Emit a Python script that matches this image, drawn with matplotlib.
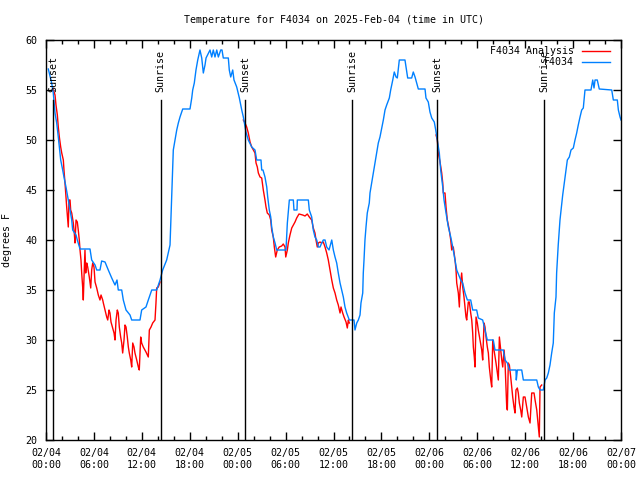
import matplotlib
matplotlib.use("Agg")
import matplotlib.pyplot as plt
import numpy as np

# hours since 2025-02-04 00:00 UTC
obs_hours = [0.29,0.71,0.91,1.13,1.34,1.54,1.84,2.09,2.25,2.50,2.79,3.01,3.22,3.34,3.76,3.92,4.26,5.51,5.72,6.14,6.35,6.76,6.97,7.39,7.80,8.23,8.64,8.89,9.05,9.48,9.68,10.02,10.52,10.73,11.77,11.98,12.52,12.81,13.24,13.86,14.28,14.61,15.11,15.53,
             15.94,16.15,16.37,16.57,16.78,17.12,18.03,18.25,18.37,18.57,18.78,19.00,19.28,19.50,19.70,19.91,20.04,20.54,20.75,20.95,21.16,21.38,21.58,21.88,22.04,22.20,22.83,22.95,23.13,23.38,23.54,23.88,24.21,24.51,24.71,25.04,25.33,25.76,26.17,26.38,26.92,27.01,27.17,27.42,27.64,27.76,27.96,28.14,28.26,28.46,28.68,28.89,30.05,30.22,30.47,30.97,31.05,31.43,31.47,32.85,32.97,33.27,33.47,33.68,33.90,34.10,34.31,34.52,34.72,34.94,35.15,35.44,35.78,35.98,36.19,36.40,36.60,36.82,37.03,37.23,37.44,37.65,37.98,38.57,38.69,38.91,39.11,39.32,39.44,39.66,39.73,39.82,39.94,40.07,40.23,40.48,40.57,40.78,40.98,41.20,41.41,41.61,41.82,42.04,42.24,42.45,42.66,42.99,43.16,43.42,43.61,43.83,43.99,44.24,44.95,45.08,45.29,45.79,45.99,46.21,46.42,46.62,47.46,47.58,47.87,48.08,48.30,48.62,48.80,49.00,49.25,49.42,49.68,49.84,50.09,50.38,50.68,50.93,51.22,51.43,51.93,52.18,52.47,52.76,53.18,53.43,53.93,54.13,54.68,54.97,55.26,56.01,56.22,57.26,57.48,57.77,58.02,58.85,58.89,59.02,59.57,59.77,61.45,61.65,61.86,62.27,62.49,62.70,62.90,63.11,63.32,63.52,63.65,63.86,63.94,64.14,64.36,64.57,64.70,64.90,65.11,65.28,65.53,65.74,66.03,66.24,66.45,66.65,66.87,67.08,67.28,67.49,68.24,68.46,68.62,68.75,69.03,69.28,70.84,71.04,71.54,71.67,71.88,72.0]
obs_temp = [57.1,55.7,54.7,52.7,51.7,50.3,48,47,46.3,45.3,44,43,42,41,40.5,40,39.1,39.1,38,37.5,37,37,37.9,37.8,37,36.2,35.5,36,35,35,34,33,32.5,32,32,33,33.3,34,35,35,36,37,38,39.5,
            49,50,51,51.7,52.3,53.1,53.1,54.2,55,55.7,57,58,59,58.2,56.7,57.5,58.2,59,58.3,59,58.3,59,58.3,59,59,58.2,58.2,57,56.3,57,56,55.3,54.2,53,52.3,50.8,50,49.3,49,48,48,47,47,46.3,45.3,44.3,43,42.3,41.3,40.3,39.7,39,39,41.7,44,44,43,43,44,44,43,42.3,41,40.3,40,39.3,39.3,39.7,40,40,39.3,39,40,39,38.3,37.7,36.7,35.7,35,34.3,33.3,32.7,32,32,31,31.7,32,32.5,33.7,34.7,36.7,38,40,41.3,42.7,43.7,44.7,45.7,46.7,47.7,48.7,49.7,50.3,51.2,52,53,53.5,54.2,55,56,56.8,56.3,56.2,58,58,57.3,56.2,56.2,56.8,56.3,55.7,55.1,55.1,54.2,53.8,52.8,52.2,51.8,51,50,48.7,47,45.3,44,42.7,41.3,40.3,39.3,38,37,36,35.7,34.7,34,34,33,33,32.2,32,31,30,30,29,29,28,27.7,27,27,26,27,27,26,26,25.3,25,25,26,26.2,26.7,27.5,28.7,29.7,32.7,34.3,36.7,39.5,42,43.5,44.5,45.7,47,48,48.3,49,49.2,50,50.7,51.5,52.3,53,53.2,55,55,56,55.2,56,56,55.1,55,54,54,53,52.3,52]

an_hours = [0.84,1.13,1.25,1.42,1.54,1.67,1.84,1.97,2.17,2.25,2.38,2.50,2.59,2.72,2.79,2.88,3.01,3.09,3.22,3.42,3.54,3.63,3.76,3.92,4.04,4.17,4.26,4.38,4.47,4.60,4.67,4.76,4.88,4.97,5.10,5.22,5.42,5.60,5.72,5.85,6.01,6.14,6.35,6.55,6.76,6.89,7.10,7.18,7.39,7.60,7.73,7.89,8.01,8.14,8.35,8.52,8.64,8.77,8.93,9.05,9.18,9.35,9.48,9.60,9.77,9.89,10.02,10.18,10.31,10.43,10.61,10.73,10.86,11.02,11.14,11.36,11.56,11.68,11.86,11.98,12.18,12.52,12.81,12.94,13.15,13.36,13.65,13.77,13.86,14.06,14.28,
            np.nan,
            24.71,24.92,25.13,25.33,25.55,25.76,25.96,26.17,26.30,26.46,26.59,26.80,27.01,27.21,27.42,27.55,27.71,27.96,28.14,28.26,28.46,28.59,28.76,28.96,29.21,29.51,29.71,29.93,30.02,30.22,30.34,30.55,30.77,30.97,31.18,31.39,31.68,32.14,32.43,32.72,32.97,33.27,33.47,33.68,33.81,33.97,34.10,34.31,34.52,34.72,34.94,35.15,35.35,35.56,35.78,35.98,36.19,36.40,36.60,36.82,36.94,37.15,37.32,37.57,37.73,37.86,37.98,
            np.nan,
            48.84,49.00,49.12,49.34,49.55,49.68,49.75,49.96,50.09,50.25,50.50,50.68,50.80,51.00,51.22,51.34,51.43,51.63,51.76,51.84,52.05,52.18,52.34,52.47,52.59,52.68,52.88,53.01,53.18,53.31,53.43,53.51,53.63,53.72,53.85,54.01,54.13,54.35,54.56,54.68,54.85,54.97,55.10,55.26,55.39,55.51,55.69,55.81,55.94,56.10,56.35,56.52,56.64,56.77,56.94,57.07,57.19,57.36,57.48,57.60,57.69,57.77,57.89,58.02,58.19,58.31,58.44,58.60,58.73,58.85,59.02,59.14,59.27,59.44,59.57,59.77,59.98,60.11,60.27,60.40,60.61,60.82,61.11,61.24,61.45,61.57,61.70,61.77,61.86,62.07]
an_temp = [55.2,54.5,53.5,52.5,51.3,50.3,49.3,48.7,48,47,45.7,44.3,43.3,42,41.3,44,44,43,42.7,41.7,40.7,39.7,42,41.8,41,40,39,38,36.7,35.2,34,36.3,39,36.7,37.7,37.3,36.3,35.2,37,37.7,37.3,35.8,35.2,34.5,34,34.5,34,33.7,33,32.3,32,33,32.7,31.8,31.2,30.7,30,32,33,32.7,31.3,30.3,29.7,28.7,30,31.5,31.3,30.3,29.3,28.7,28,27.3,29.7,29.3,28.7,28,27.3,27,30.3,29.7,29.3,28.8,28.3,31,31.3,31.7,32,33.7,35.2,35.3,35.8,
           np.nan,
           52,51.7,51.3,50.7,49.8,49.3,49,48.7,47.7,47.3,46.7,46.3,46.2,45,44,43.3,42.7,42.5,42,41,40.3,39.3,38.3,39,39.3,39.4,39.6,39.3,38.3,39,39.7,40.5,41.2,41.5,41.8,42.2,42.6,42.5,42.4,42.6,42.3,42,41.2,40.7,40,39.3,39.7,39.8,39.7,39.8,39.3,38.7,38,37,36,35.2,34.7,34,33.5,32.7,33.3,32.7,32.3,31.8,31.2,32,31.7,
           np.nan,
           50.5,50,48.7,47.8,46.7,45.7,44.7,44.7,43.3,42,41,40,39,39.3,38,37,35.7,34.7,33.3,35,36.7,35.3,34.3,33.3,32.3,32,33.8,33.8,32.7,32,30.7,29.3,28.3,27.3,32.3,31.7,31,30,29,28,31.7,31.3,30.3,29.3,28.7,27.3,26,25.3,30,29,27.7,26.7,26,30.3,29,28,27.3,29,27.7,25.3,23.3,23,27.7,27.5,26.3,25.3,24.3,23.3,22.7,25,25.2,24.7,23.7,23,22.3,24.3,24.3,23.7,23,22.3,21.7,24.7,24.7,24,23,22,21,20.3,25.3,25.5]

sun_events = [0.92, 14.38, 24.93, 38.33, 48.96, 62.35]
sun_labels = ["Sunset", "Sunrise", "Sunset", "Sunrise", "Sunset", "Sunrise"]

xtick_hours = [0, 6, 12, 18, 24, 30, 36, 42, 48, 54, 60, 66, 72]
xtick_labels = ["02/04\n00:00", "02/04\n06:00", "02/04\n12:00", "02/04\n18:00",
                "02/05\n00:00", "02/05\n06:00", "02/05\n12:00", "02/05\n18:00",
                "02/06\n00:00", "02/06\n06:00", "02/06\n12:00", "02/06\n18:00",
                "02/07\n00:00"]
ytick_vals = [20, 25, 30, 35, 40, 45, 50, 55, 60]
series_names = ["F4034 Analysis", "F4034"]
series_colors = ['#ff0000', '#0080ff']

plt.rcParams['font.family'] = ['DejaVu Sans Mono']
FS = 7.2

fig = plt.figure(figsize=(6.4, 4.8), dpi=100)
ax = fig.add_axes([46/640, 40/480, 575/640, 400/480])

ax.plot(an_hours, an_temp, color=series_colors[0], lw=1.0)
ax.plot(obs_hours, obs_temp, color=series_colors[1], lw=1.0)

for t, lab in zip(sun_events, sun_labels):
    ax.plot([t, t], [20, 54], color='black', lw=1.0)
    ax.text(t, 54.8, lab, rotation=90, ha='center', va='bottom', fontsize=FS)

ax.set_xlim(0, 72)
ax.set_ylim(20, 60)
ax.set_xticks(xtick_hours)
ax.set_xticklabels(xtick_labels, fontsize=FS, linespacing=1.25)
ax.set_xticks(np.arange(0, 73, 2), minor=True)
ax.set_yticks(ytick_vals)
ax.set_yticklabels([str(v) for v in ytick_vals], fontsize=FS)
ax.tick_params(which='both', direction='in', top=True, right=True, width=1.0)
ax.tick_params(which='major', length=6)
ax.tick_params(which='minor', length=3)
ax.tick_params(axis='x', which='major', pad=6)
ax.tick_params(axis='y', which='major', pad=6)
for s in ax.spines.values():
    s.set_linewidth(1.0)

ax.set_title("Temperature for F4034 on 2025-Feb-04 (time in UTC)", fontsize=FS, pad=12)
ax.set_ylabel("degrees F", fontsize=FS, labelpad=10)

# legend (gnuplot style: text right-aligned, sample line on the right)
leg_rows = [0.973, 0.945]
for name, col, yy in zip(series_names, series_colors, leg_rows):
    ax.text(0.918, yy, name, transform=ax.transAxes, ha='right', va='center', fontsize=FS)
    ax.plot([0.932, 0.981], [yy, yy], transform=ax.transAxes, color=col, lw=1.0, clip_on=False)

fig.savefig("out.png", dpi=100)
